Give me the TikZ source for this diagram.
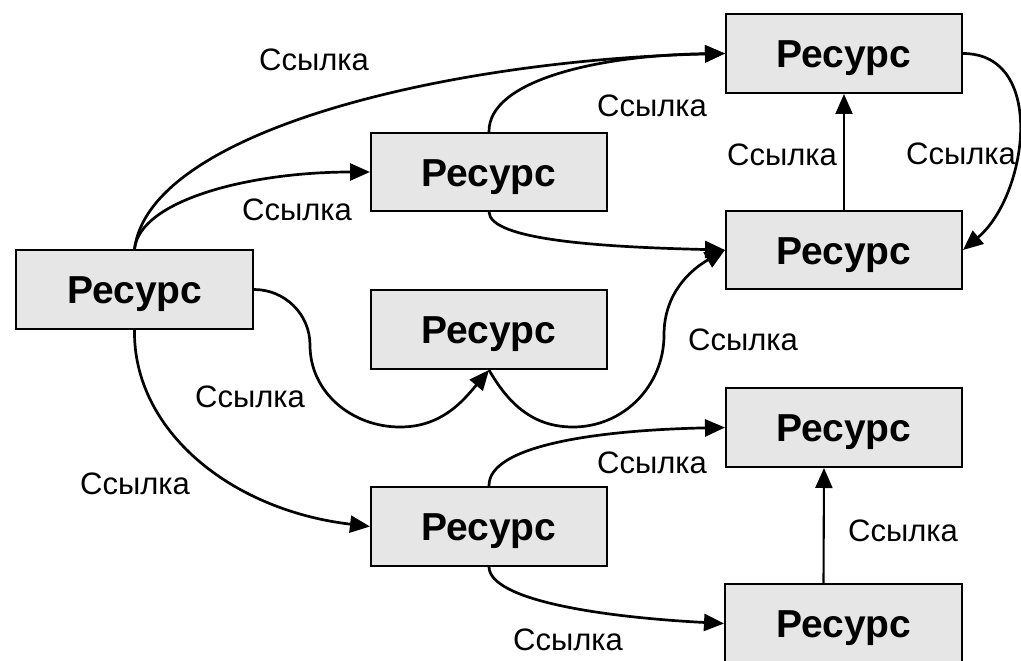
\documentclass[tikz,border=0pt]{standalone}
\usepackage{fontspec}
\setmainfont{Liberation Sans}
\usetikzlibrary{arrows.meta}
\definecolor{boxgray}{RGB}{230,230,230}
\begin{document}
\begin{tikzpicture}[x=1pt,y=-1pt,
  res/.style={draw=black, line width=2pt, fill=boxgray, minimum width=236pt, minimum height=78pt,
    inner sep=0pt, font=\bfseries\fontsize{39}{39}\selectfont, text height=28pt, text depth=0pt},
  lbl/.style={font=\fontsize{31}{31}\selectfont, inner sep=0pt, text=black},
  link/.style={line width=2.7pt, -{Triangle[length=20pt,width=17pt]}},
  straightlink/.style={line width=2.1pt, -{Triangle[length=20pt,width=17pt]}}]
\useasboundingbox (0,0) rectangle (1021,661);
\clip (0,0) rectangle (1021,661);
\fill[white] (0,0) rectangle (1021,661);

% boxes
\node[res, minimum width=237pt, minimum height=79pt] (A) at (134.5,289.5) {Ресурс};
\node[res] (B) at (489,172) {Ресурс};
\node[res, minimum height=79pt] (C) at (489,329.5) {Ресурс};
\node[res, minimum height=79pt] (D) at (489,526.5) {Ресурс};
\node[res, minimum height=79pt] (E) at (844,53.5) {Ресурс};
\node[res] (F) at (844,250) {Ресурс};
\node[res, minimum height=79pt] (G) at (844,427.5) {Ресурс};
\node[res, minimum width=237pt, minimum height=79pt] (H) at (843.5,623.5) {Ресурс};

% connectors
\draw[link] (A.north) .. controls (150,130) and (450,60) .. (E.west);
\draw[link] (A.north) .. controls (140,200) and (250,172) .. (B.west);
\draw[link] (A.east) to[out=0,in=90] (310,345) to[out=-90,in=180] (400,427) to[out=0,in=-130] (C.south);
\draw[link] (A.south) .. controls (133,430) and (230,510) .. (D.west);
\draw[link] (B.north) .. controls (488,80) and (600,55) .. (E.west);
\draw[link] (B.south) .. controls (490,240) and (600,247) .. (F.west);
\draw[link] (C.south) to[out=-60,in=180] (573,427) to[out=0,in=-90] (664,335) to[out=90,in=-150] (F.west);
\draw[straightlink] (F.north) -- (E.south);
\draw[link] (E.east) to[out=0,in=40,looseness=1.1] (F.east);
\draw[link] (D.north) .. controls (488,445) and (600,430) .. (G.west);
\draw[link] (D.south) .. controls (490,600) and (600,617) .. (H.west);
\draw[straightlink] ([xshift=-20pt]H.north) -- ([xshift=-20pt]G.south);

% labels
\node[lbl] (l1) at (314,60) {Ссылка};
\node[lbl] (l2) at (297,210) {Ссылка};
\node[lbl] (l3) at (652,106) {Ссылка};
\node[lbl] (l4) at (782,155) {Ссылка};
\node[lbl] (l5) at (961,154) {Ссылка};
\node[lbl] (l6) at (250,397) {Ссылка};
\node[lbl] (l7) at (135,484) {Ссылка};
\node[lbl] (l8) at (743,340) {Ссылка};
\node[lbl] (l9) at (652,463) {Ссылка};
\node[lbl] (l10) at (903,531) {Ссылка};
\node[lbl] (l11) at (568,640) {Ссылка};
\end{tikzpicture}
\end{document}
